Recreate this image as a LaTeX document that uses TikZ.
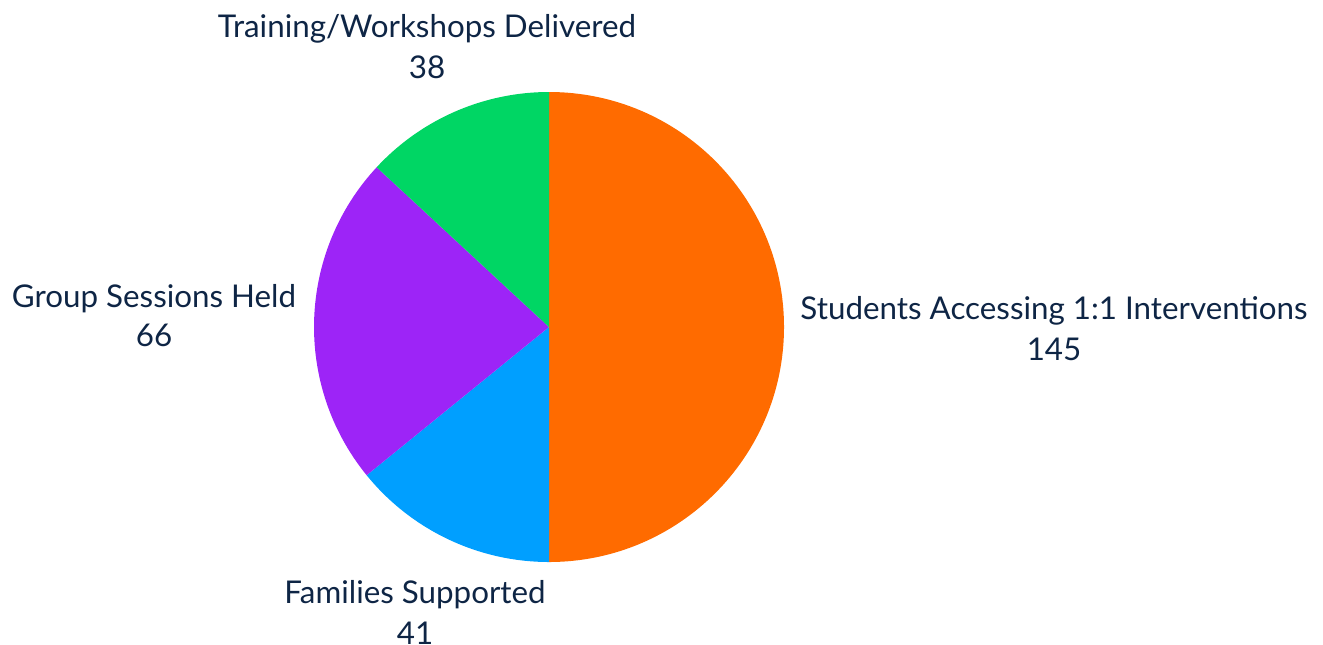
\documentclass[tikz,border=0pt]{standalone}
\usepackage{fontspec}
\setmainfont{Lato}
\usepackage{xcolor}
\definecolor{slicered}{HTML}{FF6B00}
\definecolor{sliceblue}{HTML}{009FFF}
\definecolor{slicepurple}{HTML}{9D24F7}
\definecolor{slicegreen}{HTML}{00D664}
\definecolor{labelnavy}{HTML}{0E2545}
\tikzset{
  lbl/.style={anchor=base,inner sep=0.75pt,text=labelnavy,font=\fontsize{23.5}{28}\selectfont},
}

\begin{document}
\begin{tikzpicture}[x=0.75pt,y=0.75pt,yscale=-1,xscale=1]
\useasboundingbox (0,0) rectangle (1323,644);

% slices
\fill[slicered] (549,327) -- (549,92) arc[start angle=-90,end angle=90,radius=235] -- cycle;
\fill[sliceblue] (549,327) -- (549,562) arc[start angle=90,end angle=140.897,radius=235] -- cycle;
\fill[slicepurple] (549,327) -- ++(140.897:235) arc[start angle=140.897,end angle=222.828,radius=235] -- cycle;
\fill[slicegreen] (549,327) -- ++(222.828:235) arc[start angle=222.828,end angle=270,radius=235] -- cycle;

% labels
\node[lbl] (traintext) at (427,37) {Training/Workshops Delivered};
\node[lbl] (trainval) at (427,78) {38};
\node[lbl] (grouptext) at (154,307) {Group Sessions Held};
\node[lbl] (groupval) at (154,346) {66};
\node[lbl] (studtext) at (1054,319) {Students Accessing 1:1 Interventions};
\node[lbl] (studval) at (1054,360) {145};
\node[lbl] (famtext) at (415,603) {Families Supported};
\node[lbl] (famval) at (415,644) {41};

\end{tikzpicture}
\end{document}
